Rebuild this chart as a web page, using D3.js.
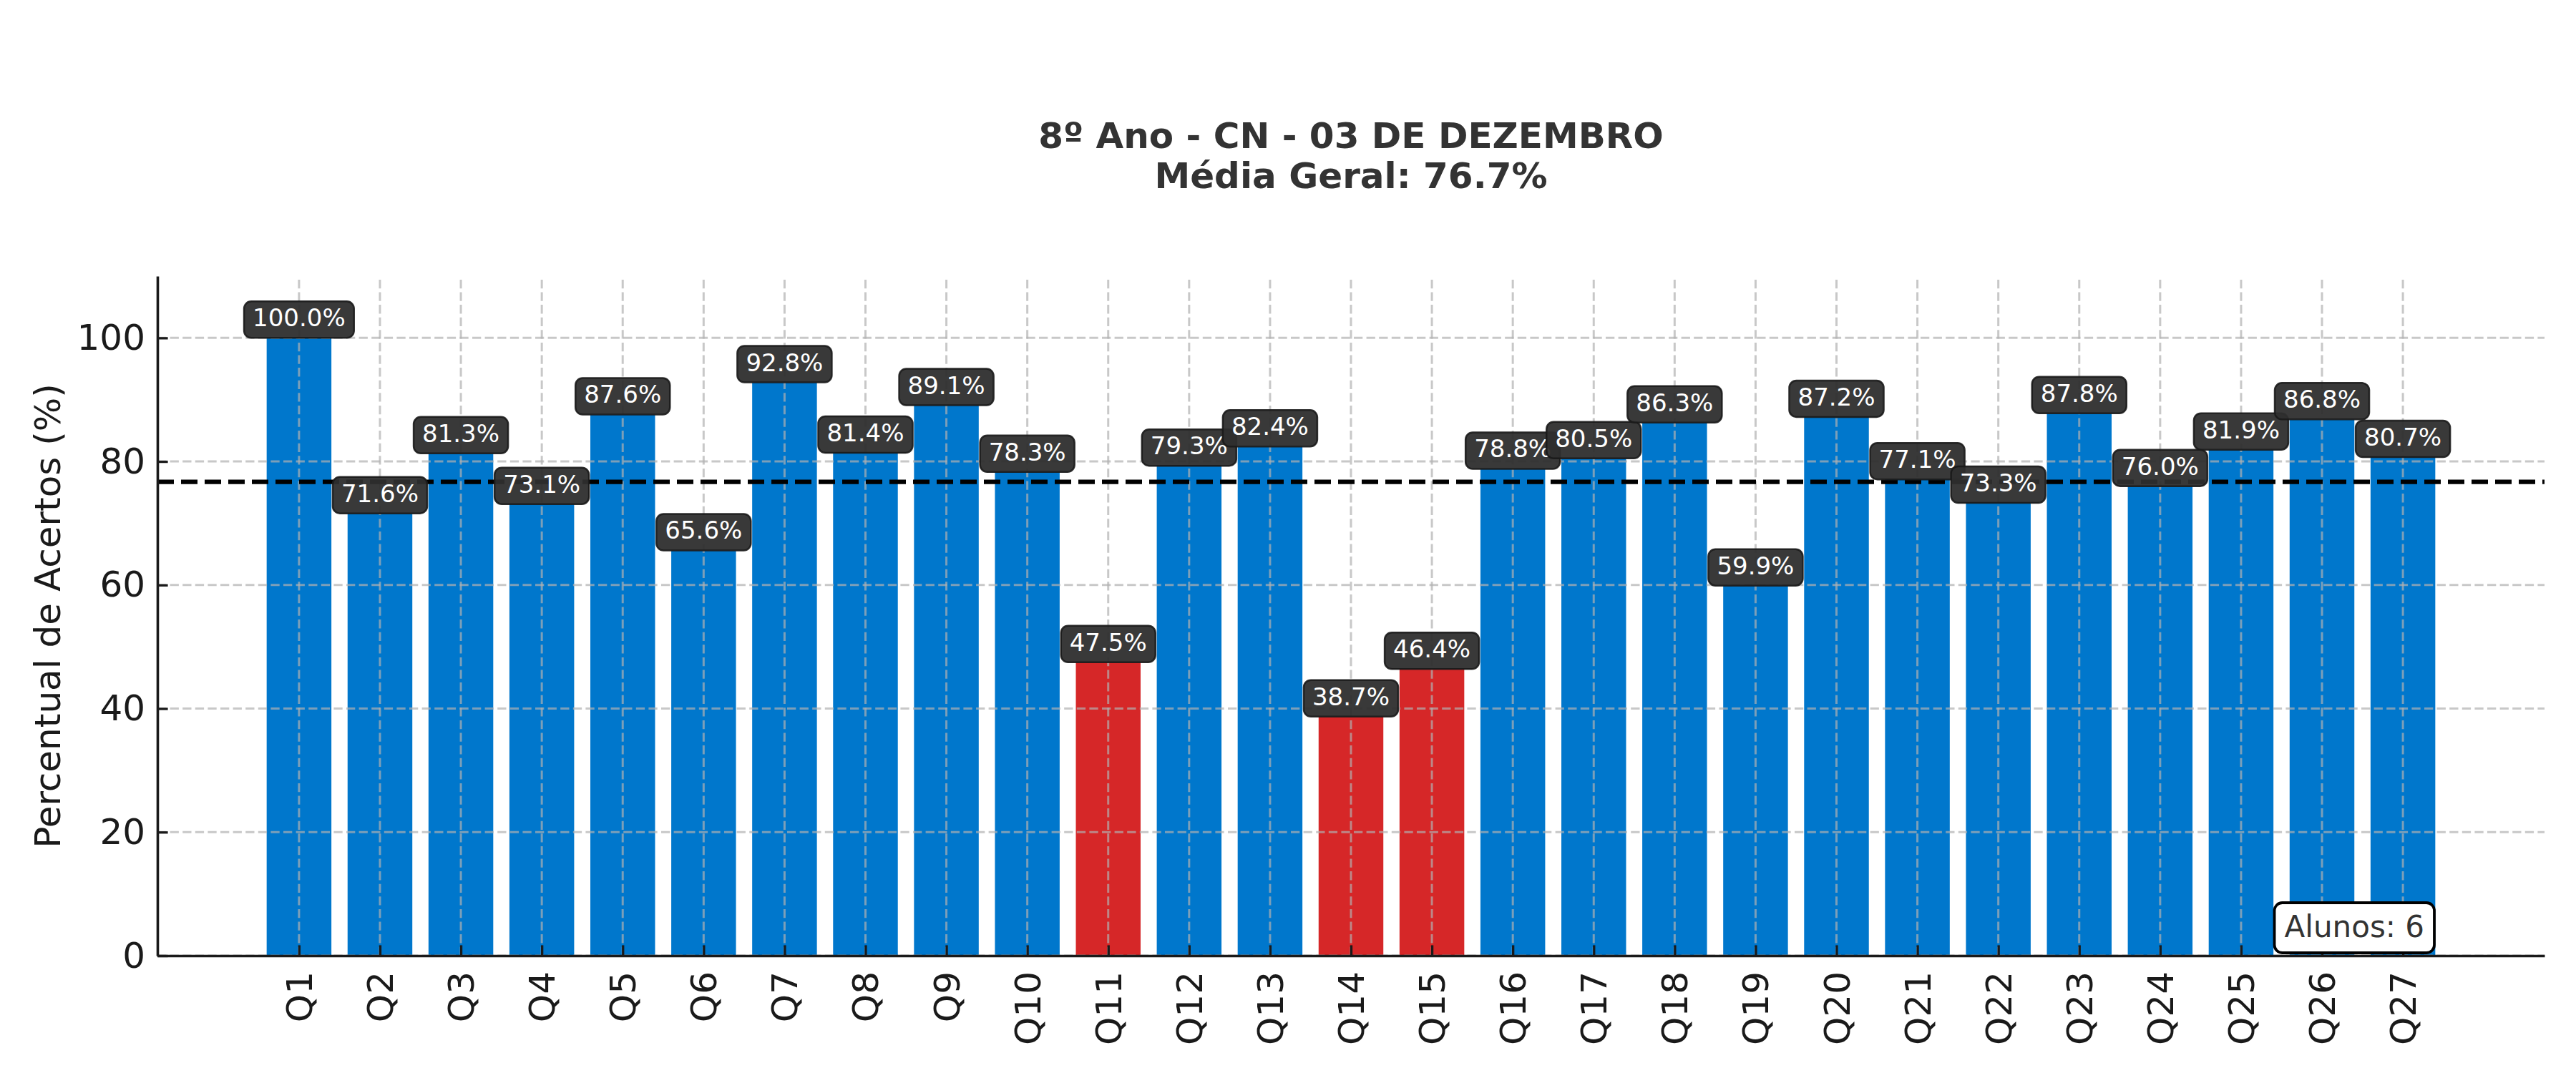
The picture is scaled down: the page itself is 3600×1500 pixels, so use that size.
<!DOCTYPE html>
<html>
<head>
<meta charset="utf-8">
<script src="https://cdn.jsdelivr.net/npm/d3@7"></script>
<style>
  html, body { margin: 0; padding: 0; background: #ffffff; }
  svg { display: block; font-family: "DejaVu Sans", sans-serif; }
</style>
</head>
<body>
<svg id="chart" width="3600" height="1500"></svg>
<script>
// ---- data ----
const categories = ["Q1","Q2","Q3","Q4","Q5","Q6","Q7","Q8","Q9","Q10","Q11","Q12","Q13","Q14","Q15","Q16","Q17","Q18","Q19","Q20","Q21","Q22","Q23","Q24","Q25","Q26","Q27"];
const values = [100.0, 71.6, 81.3, 73.1, 87.6, 65.6, 92.8, 81.4, 89.1, 78.3, 47.5, 79.3, 82.4, 38.7, 46.4, 78.8, 80.5, 86.3, 59.9, 87.2, 77.1, 73.3, 87.8, 76.0, 81.9, 86.8, 80.7];
const yTicks = [0, 20, 40, 60, 80, 100];
const meanValue = 76.7;
const threshold = 50;
const titleLines = ["8º Ano - CN - 03 DE DEZEMBRO", "Média Geral: 76.7%"];
const yLabel = "Percentual de Acertos (%)";
const studentsText = "Alunos: 6";

// ---- layout ----
const L = 220, R = 3556, T = 386, B = 1336;
const svg = d3.select("#chart");

const x = d3.scaleLinear().domain([-1.75, categories.length + 0.75]).range([L, R]);
const y = d3.scaleLinear().domain([0, 110]).range([B, T]);
const barHalf = 0.4;

// bars
svg.append("g").selectAll("rect").data(values).join("rect")
  .attr("x", (d, i) => x(i - barHalf))
  .attr("width", x(barHalf) - x(-barHalf))
  .attr("y", d => y(d))
  .attr("height", d => y(0) - y(d))
  .attr("fill", d => d < threshold ? "#d62728" : "#0077cc");

// grid (above bars)
const grid = svg.append("g").attr("stroke", "#b0b0b0").attr("stroke-opacity", 0.7)
  .attr("stroke-width", 3).attr("stroke-dasharray", "12.3,5.3").attr("fill", "none");
grid.selectAll("line.h").data(yTicks).join("line").attr("class", "h")
  .attr("x1", L).attr("x2", R).attr("y1", d => y(d)).attr("y2", d => y(d));
grid.selectAll("line.v").data(categories).join("line").attr("class", "v")
  .attr("x1", (d, i) => x(i)).attr("x2", (d, i) => x(i)).attr("y1", B).attr("y2", T);

// mean line
svg.append("line")
  .attr("x1", L).attr("x2", R).attr("y1", y(meanValue)).attr("y2", y(meanValue))
  .attr("stroke", "#000").attr("stroke-width", 6.25).attr("stroke-dasharray", "23,10");

// axes
const xAxis = d3.axisBottom(x)
  .tickValues(d3.range(categories.length))
  .tickFormat(i => categories[i])
  .tickSizeInner(-14.6).tickSizeOuter(0).tickPadding(22);
const gx = svg.append("g").attr("transform", `translate(0,${B})`).call(xAxis);
gx.selectAll(".tick text")
  .attr("transform", "rotate(-90)")
  .attr("x", -22).attr("y", 0).attr("dy", "0.35em")
  .attr("text-anchor", "end");

const yAxis = d3.axisLeft(y).tickValues(yTicks).tickSizeInner(-14.6).tickSizeOuter(0).tickPadding(17);
const gy = svg.append("g").attr("transform", `translate(${L},0)`).call(yAxis);

[gx, gy].forEach(g => {
  g.attr("font-family", "DejaVu Sans").attr("font-size", 50);
  g.selectAll(".tick text").attr("fill", "#1a1a1a");
  g.selectAll(".tick line").attr("stroke", "#1a1a1a").attr("stroke-width", 3.3);
  g.select(".domain").attr("stroke", "#1a1a1a").attr("stroke-width", 3.6);
});

// value labels
const lab = svg.append("g");
values.forEach((v, i) => {
  const g = lab.append("g");
  const cx = x(i), top = y(v);
  const rect = g.append("rect");
  const t = g.append("text")
    .attr("x", cx).attr("y", top - 16)
    .attr("text-anchor", "middle")
    .attr("font-size", 34).attr("fill", "#ffffff")
    .text(v.toFixed(1) + "%");
  const w = t.node().getComputedTextLength();
  rect.attr("x", cx - w / 2 - 12).attr("width", w + 24)
    .attr("y", top - 51).attr("height", 51)
    .attr("rx", 10).attr("ry", 10)
    .attr("fill", "#2e2e2e").attr("fill-opacity", 0.95)
    .attr("stroke", "#1a1a1a").attr("stroke-opacity", 0.9).attr("stroke-width", 2.5);
});

// y label
svg.append("text")
  .attr("transform", `translate(84,${(T + B) / 2}) rotate(-90)`)
  .attr("text-anchor", "middle")
  .attr("font-size", 50).attr("fill", "#1a1a1a")
  .text(yLabel);

// title
const title = svg.append("text").attr("text-anchor", "middle")
  .attr("font-size", 50).attr("font-weight", "bold").attr("fill", "#333333");
titleLines.forEach((s, k) => {
  title.append("tspan").attr("x", (L + R) / 2).attr("y", 207 + k * 56).text(s);
});

// students box
const sg = svg.append("g");
const srect = sg.append("rect");
const st = sg.append("text")
  .attr("x", 3388).attr("y", 1310)
  .attr("text-anchor", "end")
  .attr("font-size", 42).attr("fill", "#333333")
  .text(studentsText);
const sw = st.node().getComputedTextLength();
srect.attr("x", 3388 - sw - 14).attr("width", sw + 28)
  .attr("y", 1262).attr("height", 70)
  .attr("rx", 11).attr("ry", 11)
  .attr("fill", "#ffffff").attr("stroke", "#000000").attr("stroke-width", 3.8);
</script>
</body>
</html>
